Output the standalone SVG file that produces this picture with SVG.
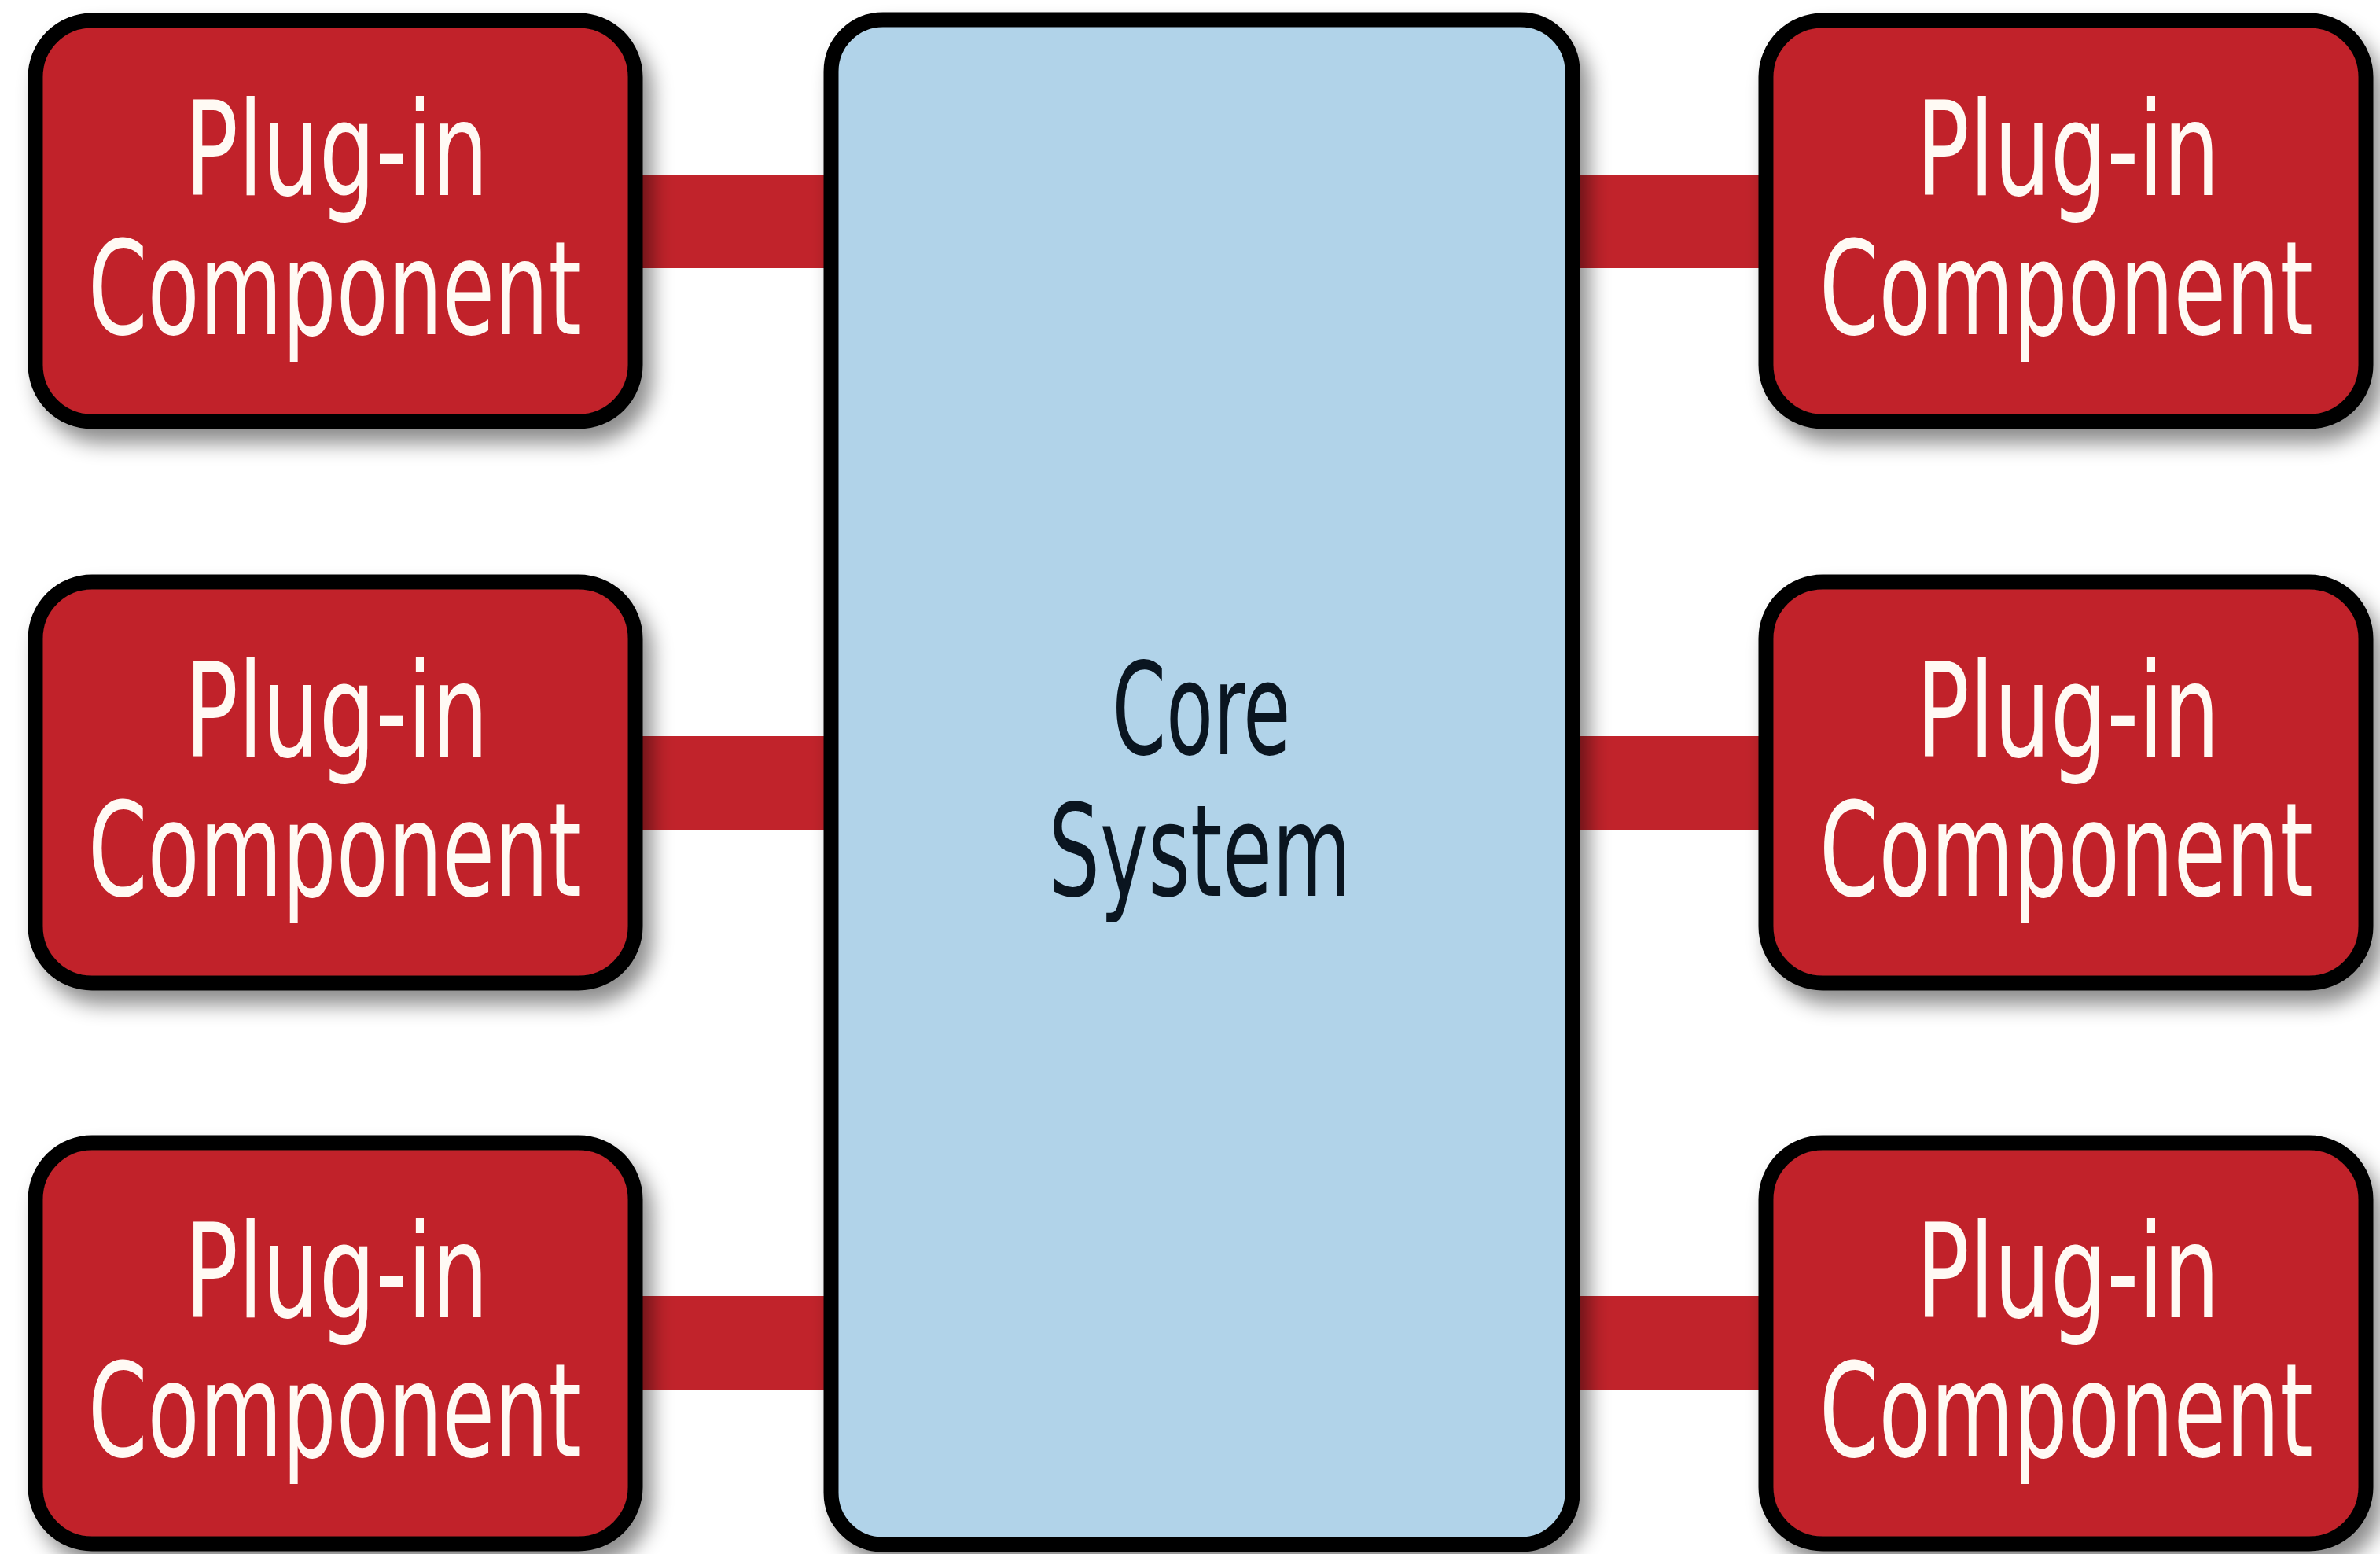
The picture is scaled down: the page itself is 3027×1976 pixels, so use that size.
<svg xmlns="http://www.w3.org/2000/svg" width="3027" height="1976" viewBox="0 0 3027 1976">
<style>
.plug{fill:#c1232b;stroke:#050505;stroke-width:19}
.core{fill:#b1d3e9;stroke:#050505;stroke-width:19}
.conn{fill:#c1232b}
.pt{font-family:"Liberation Sans Narrow","DejaVu Sans Condensed","Liberation Sans",sans-serif;font-size:165px;fill:#fffaf4;text-anchor:middle}
.ct{font-family:"Liberation Sans Narrow","DejaVu Sans Condensed","Liberation Sans",sans-serif;font-size:163px;fill:#0a1520;text-anchor:middle}
</style>
<defs>
<filter id="sh" x="-10%" y="-10%" width="130%" height="130%">
<feDropShadow dx="12" dy="18" stdDeviation="13" flood-color="#000" flood-opacity="0.45"/>
</filter>
</defs>
<rect width="3027" height="1976" fill="#ffffff"/>
<g id="connectors">
<rect class="conn" x="810" y="222" width="250" height="119"/>
<rect class="conn" x="810" y="936" width="250" height="119"/>
<rect class="conn" x="810" y="1648" width="250" height="119"/>
<rect class="conn" x="2000" y="222" width="245" height="119"/>
<rect class="conn" x="2000" y="936" width="245" height="119"/>
<rect class="conn" x="2000" y="1648" width="245" height="119"/>
</g>
<g id="core">
<rect class="core" x="1057" y="25" width="943" height="1939" rx="66" filter="url(#sh)"/>
<text class="ct" x="1528" y="959" textLength="227" lengthAdjust="spacingAndGlyphs">Core</text>
<text class="ct" x="1526" y="1139" textLength="385" lengthAdjust="spacingAndGlyphs">System</text>
</g>
<g id="plugin-left-1">
<rect class="plug" x="45" y="26" width="763" height="510" rx="72" filter="url(#sh)"/>
<text class="pt" x="428" y="248" textLength="386" lengthAdjust="spacingAndGlyphs">Plug-in</text>
<text class="pt" x="426" y="425" textLength="628" lengthAdjust="spacingAndGlyphs">Component</text>
</g>
<g id="plugin-left-2">
<rect class="plug" x="45" y="740" width="763" height="510" rx="72" filter="url(#sh)"/>
<text class="pt" x="428" y="962" textLength="386" lengthAdjust="spacingAndGlyphs">Plug-in</text>
<text class="pt" x="426" y="1139" textLength="628" lengthAdjust="spacingAndGlyphs">Component</text>
</g>
<g id="plugin-left-3">
<rect class="plug" x="45" y="1453" width="763" height="510" rx="72" filter="url(#sh)"/>
<text class="pt" x="428" y="1675" textLength="386" lengthAdjust="spacingAndGlyphs">Plug-in</text>
<text class="pt" x="426" y="1852" textLength="628" lengthAdjust="spacingAndGlyphs">Component</text>
</g>
<g id="plugin-right-1">
<rect class="plug" x="2246" y="26" width="763" height="510" rx="72" filter="url(#sh)"/>
<text class="pt" x="2630" y="248" textLength="386" lengthAdjust="spacingAndGlyphs">Plug-in</text>
<text class="pt" x="2628" y="425" textLength="628" lengthAdjust="spacingAndGlyphs">Component</text>
</g>
<g id="plugin-right-2">
<rect class="plug" x="2246" y="740" width="763" height="510" rx="72" filter="url(#sh)"/>
<text class="pt" x="2630" y="962" textLength="386" lengthAdjust="spacingAndGlyphs">Plug-in</text>
<text class="pt" x="2628" y="1139" textLength="628" lengthAdjust="spacingAndGlyphs">Component</text>
</g>
<g id="plugin-right-3">
<rect class="plug" x="2246" y="1453" width="763" height="510" rx="72" filter="url(#sh)"/>
<text class="pt" x="2630" y="1675" textLength="386" lengthAdjust="spacingAndGlyphs">Plug-in</text>
<text class="pt" x="2628" y="1852" textLength="628" lengthAdjust="spacingAndGlyphs">Component</text>
</g>
</svg>
